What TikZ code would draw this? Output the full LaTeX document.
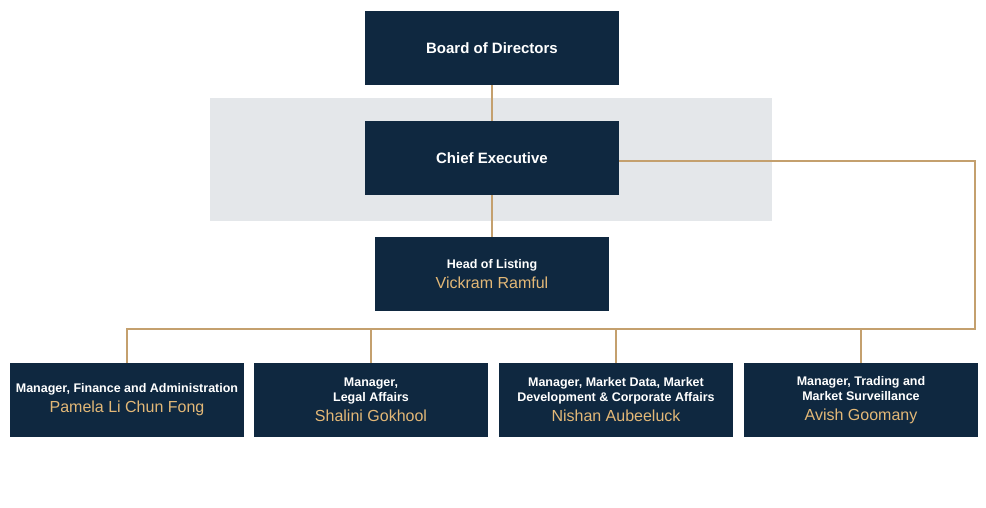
\documentclass[tikz,border=0pt]{standalone}
\usepackage{fontspec}
\setmainfont{Liberation Sans}
\usetikzlibrary{positioning}

\definecolor{navy}{HTML}{0F2840}
\definecolor{gold}{HTML}{C4A06E}
\definecolor{namegold}{HTML}{E3B877}
\definecolor{panel}{HTML}{E4E7EA}

\newcommand{\who}[1]{\\[5pt]{\color{namegold}\mdseries\fontsize{16}{18}\selectfont #1}}

\begin{document}
\begin{tikzpicture}[x=1pt, y=-1pt,
	box/.style={fill=navy, text=white, minimum width=254pt, minimum height=74pt,
		inner sep=0pt, align=center, font=\bfseries\fontsize{15}{18}\selectfont},
	staff/.style={fill=navy, text=white, minimum width=234pt, minimum height=74pt,
		inner sep=0pt, align=center, font=\bfseries\fontsize{12.5}{15}\selectfont},
	link/.style={draw=gold, line width=2pt}]
	\useasboundingbox (0,0) rectangle (986,508);
	
	\fill[panel] (210,98) rectangle (772,221);
	
	\node[box] (board) at (492,48) {Board of Directors};
	\node[box] (chief) at (492,158) {Chief Executive};
	\node[staff] (head) at (492,274) {Head of Listing\who{Vickram Ramful}};
	
	\node[staff] (m1) at (127,400) {Manager, Finance and Administration\who{Pamela Li Chun Fong}};
	\node[staff] (m2) at (371,400) {Manager,\\Legal Affairs\who{Shalini Gokhool}};
	\node[staff] (m3) at (616,400) {Manager, Market Data, Market\\Development \& Corporate Affairs\who{Nishan Aubeeluck}};
	\node[staff] (m4) at (861,400) {Manager, Trading and\\Market Surveillance\who{Avish Goomany}};
	
	\coordinate (busr) at (975,329);
	\coordinate (busl) at (127,329);
	
	\draw[link] (board) -- (chief);
	\draw[link] (chief) -- (head);
	\draw[link] ([yshift=-3pt]chief.east) -| (busr) -- (busl) -- (m1.north);
	\draw[link] (m2.north) -- (m2.north |- busr);
	\draw[link] (m3.north) -- (m3.north |- busr);
	\draw[link] (m4.north) -- (m4.north |- busr);
\end{tikzpicture}
\end{document}
